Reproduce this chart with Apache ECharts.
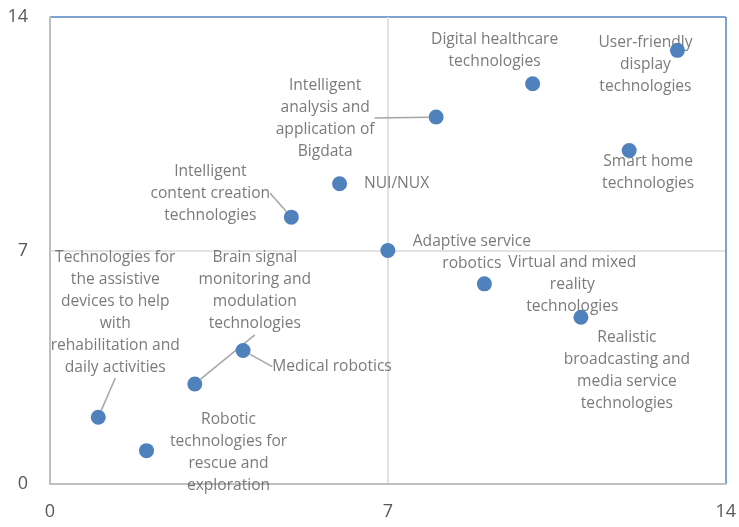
<!DOCTYPE html>
<html>
<head>
<meta charset="utf-8">
<script src="https://cdn.jsdelivr.net/npm/echarts@6/dist/echarts.min.js"></script>
<style>html,body{margin:0;padding:0;background:#fff}#c{width:739px;height:527px}</style>
</head>
<body>
<div id="c"></div>
<script>
const names = [
  "Technologies for\nthe assistive\ndevices to help\nwith\nrehabilitation and\ndaily activities",
  "Robotic\ntechnologies for\nrescue and\nexploration",
  "Brain signal\nmonitoring and\nmodulation\ntechnologies",
  "Medical robotics",
  "Intelligent\ncontent creation\ntechnologies",
  "NUI/NUX",
  "Adaptive service\nrobotics",
  "Intelligent\nanalysis and\napplication of\nBigdata",
  "Virtual and mixed\nreality\ntechnologies",
  "Digital healthcare\ntechnologies",
  "Realistic\nbroadcasting and\nmedia service\ntechnologies",
  "Smart home\ntechnologies",
  "User-friendly\ndisplay\ntechnologies"
];
const xValues = [1, 2, 3, 4, 5, 6, 7, 8, 9, 10, 11, 12, 13];
const yValues = [2, 1, 3, 4, 8, 9, 7, 11, 6, 12, 5, 10, 13];
const axisTicks = [0, 7, 14];

// label styling: offsets (px) of label centre from its point, and which have leader lines
const labelOffsets = [[17,-105],[82,2],[60,-93],[89,16],[-81,-24],[57,0],[84,2],[-111,1],[88,1],[-38,-33],[46,53],[19,22],[-32,14]];
const leader = [true,false,true,true,true,false,false,true,false,false,false,false,false];

const pts = xValues.map((x, i) => [x, yValues[i]]);
const labelData = pts.map((p, i) => ({
  value: p,
  name: names[i],
  labelLine: { show: leader[i] }
}));

const chart = echarts.init(document.getElementById('c'), null, { renderer: 'canvas' });
const fontFam = "Open Sans";
chart.setOption({
  animation: false,
  backgroundColor: '#ffffff',
  grid: { left: 50, right: 11, top: 17, bottom: 43, containLabel: false },
  xAxis: {
    type: 'value', min: axisTicks[0], max: axisTicks[2], interval: axisTicks[1] - axisTicks[0],
    axisLine: { show: true, onZero: false, lineStyle: { color: '#bfbfbf', width: 2 } },
    axisTick: { show: false },
    axisLabel: { color: '#595959', fontSize: 18, fontFamily: fontFam, margin: 19 },
    splitLine: { show: true, lineStyle: { color: ['#bfbfbf', '#d9d9d9', '#5585c2'], width: 1.5 } }
  },
  yAxis: {
    type: 'value', min: axisTicks[0], max: axisTicks[2], interval: axisTicks[1] - axisTicks[0],
    axisLine: { show: true, onZero: false, lineStyle: { color: '#bfbfbf', width: 2 } },
    axisTick: { show: false },
    axisLabel: { color: '#595959', fontSize: 18, fontFamily: fontFam, margin: 22 },
    splitLine: { show: true, lineStyle: { color: ['#bfbfbf', '#d9d9d9', '#5585c2'], width: 1.5 } }
  },
  series: [
    {
      type: 'scatter', z: 2,
      data: labelData,
      symbolSize: 15,
      itemStyle: { color: 'rgba(0,0,0,0)' },
      label: {
        show: true, position: 'inside',
        formatter: p => p.name,
        color: '#595959', fontSize: 15.6, fontFamily: fontFam, lineHeight: 22, align: 'center', verticalAlign: 'middle'
      },
      labelLine: { show: false, lineStyle: { color: '#a6a6a6', width: 1.5 } },
      labelLayout: params => ({ dx: labelOffsets[params.dataIndex][0], dy: labelOffsets[params.dataIndex][1] }),
      emphasis: { disabled: true }
    },
    {
      type: 'scatter', z: 3,
      data: pts,
      symbolSize: 15,
      itemStyle: { color: '#4f81bd', opacity: 1 },
      emphasis: { disabled: true }
    }
  ]
});
</script>
</body>
</html>
